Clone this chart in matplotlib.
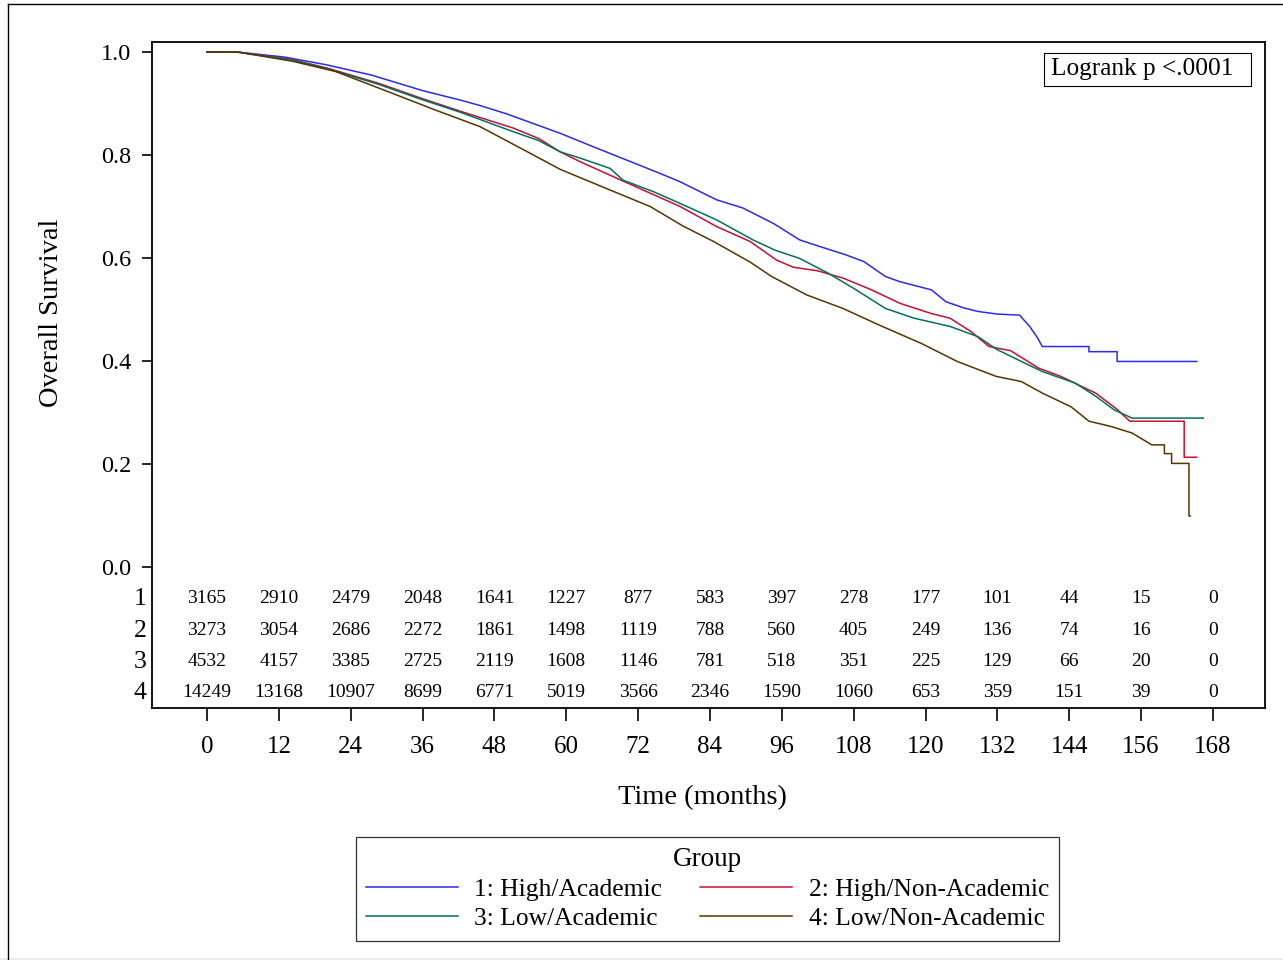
import matplotlib
matplotlib.use("Agg")
import matplotlib.pyplot as plt
from matplotlib.patches import Rectangle

plt.rcParams["font.family"] = ["Liberation Serif", "DejaVu Serif"]

# survival curves (months, survival)
t1 = [0, 5, 13, 20, 27.5, 36, 42.5, 45.6, 50, 59, 64.5, 70.1, 75.7, 79, 85.1, 89.5,
      94.6, 99, 102.4, 106.7, 109.7, 113.3, 115.7, 121, 123.4, 126.4, 128.8, 132,
      135.7, 137.4, 138.7, 139.5, 147.3, 147.3, 152, 152, 165.3]
s1 = [1.0, 1.0, 0.990, 0.975, 0.955, 0.925, 0.906, 0.896, 0.880, 0.842, 0.816,
      0.790, 0.764, 0.748, 0.713, 0.697, 0.667, 0.635, 0.622, 0.606, 0.593, 0.564,
      0.554, 0.538, 0.515, 0.503, 0.496, 0.491, 0.489, 0.467, 0.445, 0.428, 0.428,
      0.418, 0.418, 0.399, 0.399]

t2 = [0, 5, 14, 20.3, 28.7, 35.8, 42.3, 51.2, 55.4, 59, 62.3, 68.4, 73.4, 79, 85.1,
      90.7, 95.1, 97.9, 102, 106.2, 111, 115.7, 121, 124.1, 127.6, 130.6, 134.2,
      138.9, 142.6, 148.5, 152.1, 154.1, 163.2, 163.2, 165.3]
s2 = [1.0, 1.0, 0.986, 0.968, 0.939, 0.910, 0.885, 0.852, 0.832, 0.806, 0.787,
      0.755, 0.729, 0.700, 0.661, 0.632, 0.596, 0.582, 0.575, 0.561, 0.538, 0.512,
      0.492, 0.483, 0.457, 0.428, 0.420, 0.386, 0.370, 0.337, 0.305, 0.283, 0.283,
      0.213, 0.213]

t3 = [0, 5, 14, 20.3, 28.7, 35.8, 42.3, 51.2, 55.4, 59, 62.3, 67.3, 69.5, 74.5, 79,
      85.1, 91.2, 94.9, 99, 103.8, 108, 113.3, 118.1, 124.1, 128.8, 131.8, 136,
      139.6, 145, 148.5, 151.5, 154.5, 166.4]
s3 = [1.0, 1.0, 0.985, 0.967, 0.937, 0.908, 0.883, 0.845, 0.828, 0.806, 0.794,
      0.774, 0.751, 0.729, 0.706, 0.674, 0.635, 0.615, 0.599, 0.570, 0.541, 0.502,
      0.483, 0.467, 0.447, 0.423, 0.399, 0.379, 0.357, 0.331, 0.305, 0.289, 0.289]

t4 = [0, 5, 14.3, 21.5, 28.9, 38.2, 45.6, 53.7, 59, 67.3, 74, 79.5, 84.6, 90.7,
      94.3, 100.2, 106.2, 112.2, 119.3, 125.3, 131.8, 136, 139.6, 144.3, 147.3,
      150.9, 154.5, 157.8, 159.9, 159.9, 161.1, 161.1, 164, 164, 164.2]
s4 = [1.0, 1.0, 0.982, 0.962, 0.929, 0.887, 0.855, 0.805, 0.772, 0.732, 0.700,
      0.662, 0.632, 0.592, 0.564, 0.528, 0.502, 0.470, 0.434, 0.399, 0.370, 0.360,
      0.337, 0.311, 0.283, 0.273, 0.260, 0.237, 0.237, 0.220, 0.220, 0.201, 0.201,
      0.099, 0.099]

group_names = ["1: High/Academic", "2: High/Non-Academic", "3: Low/Academic", "4: Low/Non-Academic"]
colors = ["#2B2BF0", "#C8102E", "#00705F", "#5A3300"]

risk_times = list(range(0, 169, 12))
risk1 = [3165, 2910, 2479, 2048, 1641, 1227, 877, 583, 397, 278, 177, 101, 44, 15, 0]
risk2 = [3273, 3054, 2686, 2272, 1861, 1498, 1119, 788, 560, 405, 249, 136, 74, 16, 0]
risk3 = [4532, 4157, 3385, 2725, 2119, 1608, 1146, 781, 518, 351, 225, 129, 66, 20, 0]
risk4 = [14249, 13168, 10907, 8699, 6771, 5019, 3566, 2346, 1590, 1060, 653, 359, 151, 39, 0]

W, H = 1283, 960
fig = plt.figure(figsize=(W / 100, H / 100), dpi=100)
ax_l, ax_t, ax_r, ax_b = 152, 42, 1265, 708
ax = fig.add_axes([ax_l / W, 1 - ax_b / H, (ax_r - ax_l) / W, (ax_b - ax_t) / H])

curves = [(t1, s1), (t2, s2), (t3, s3), (t4, s4)]
handles = []
for (t, s), c, name in zip(curves, colors, group_names):
    ln, = ax.plot(t, s, color=c, lw=1.1, label=name)
    handles.append(ln)

ax.set_xlim(-9.19, 176.7)
ax.set_ylim(-0.274, 1.0194)
ax.set_xticks(risk_times)
ax.set_yticks([0.0, 0.2, 0.4, 0.6, 0.8, 1.0])
ax.set_yticklabels(["0.0", "0.2", "0.4", "0.6", "0.8", "1.0"])
ax.tick_params(axis="x", direction="out", length=9, width=1.2, labelsize=18, pad=11)
ax.tick_params(axis="y", direction="out", length=7, width=1.2, labelsize=17.5, pad=8)
for sp in ax.spines.values():
    sp.set_linewidth(1.3)

# number at risk table inside the axes
row_y = [-0.0621, -0.1243, -0.1845, -0.2447]
for k, (row, yy) in enumerate(zip([risk1, risk2, risk3, risk4], row_y)):
    for tt, n in zip(risk_times, row):
        ax.text(tt, yy, str(n), ha="center", va="center", fontsize=14)
    ax.text(-0.005, yy, str(k + 1), transform=ax.get_yaxis_transform(),
            ha="right", va="center", fontsize=18.5)

# logrank box (pixel box converted to axes fractions)
def ax_frac(px, py):
    return (px - ax_l) / (ax_r - ax_l), (ax_b - py) / (ax_b - ax_t)

bx0, by0 = ax_frac(1044, 86)
bx1, by1 = ax_frac(1251, 53)
ax.add_patch(Rectangle((bx0, by0), bx1 - bx0, by1 - by0, transform=ax.transAxes,
                       fc="white", ec="black", lw=0.8, zorder=5))
tx, ty = ax_frac(1051, 69.5)
ax.text(tx, ty, "Logrank p <.0001", transform=ax.transAxes, ha="left",
        va="center", fontsize=18.2, zorder=6)

fig.text(52 / W, 1 - 313 / H, "Overall Survival", rotation=90, ha="center",
         va="center", fontsize=20.5)
fig.text(702 / W, 1 - 798 / H, "Time (months)", ha="center", va="center", fontsize=20.5)

# legend filled column-wise, so order handles to read 1 2 / 3 4 across rows
order = [0, 2, 1, 3]
leg = ax.legend([handles[i] for i in order], [group_names[i] for i in order],
                loc="center", ncol=2,
                bbox_to_anchor=(707.5 / W, 1 - 888.5 / H),
                bbox_transform=fig.transFigure, title="Group",
                fontsize=18.4, title_fontsize=19.5, frameon=True, fancybox=False,
                edgecolor="black", handlelength=3.6, handletextpad=0.63,
                columnspacing=1.5, borderpad=0.4, labelspacing=0.25,
                borderaxespad=0)
leg.get_frame().set_linewidth(0.9)
for ln in leg.get_lines():
    ln.set_linewidth(1.1)

# outer frame of the picture
fig.add_artist(plt.Line2D([8 / W, 8 / W], [0, 1 - 4 / H], transform=fig.transFigure,
                          color="black", lw=1.0))
fig.add_artist(plt.Line2D([8 / W, 1], [1 - 4 / H, 1 - 4 / H], transform=fig.transFigure,
                          color="black", lw=1.0))
fig.add_artist(Rectangle((0, 0), 1, 2.5 / H, transform=fig.transFigure,
                         color="#EBEBEB", lw=0))

fig.savefig("out.png", dpi=100)
